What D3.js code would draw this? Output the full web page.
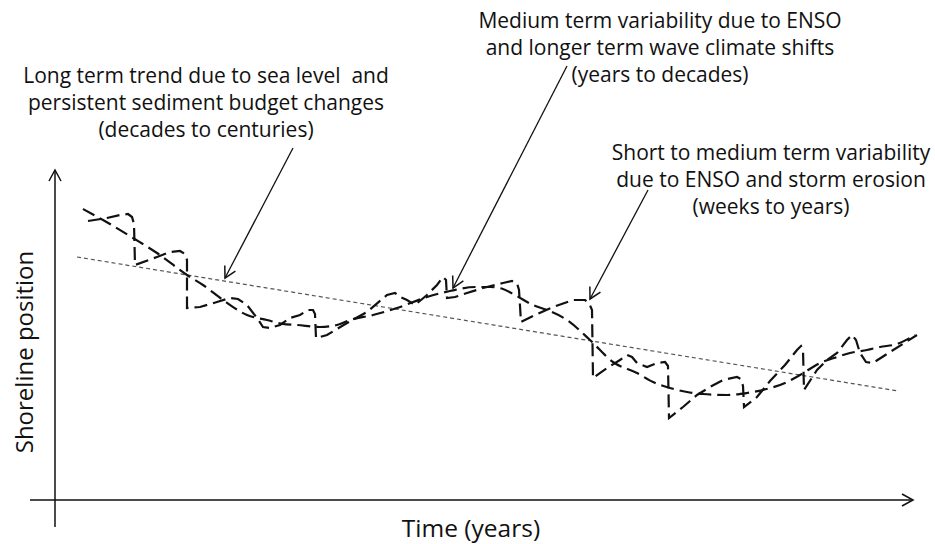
<!DOCTYPE html>
<html>
<head>
<meta charset="utf-8">
<script src="https://cdnjs.cloudflare.com/ajax/libs/d3/7.8.5/d3.min.js"></script>
<style>
  html, body { margin: 0; padding: 0; background: #fff; }
  text { font-family: "Open Sans", Lato, sans-serif; fill: #111; white-space: pre; }
</style>
</head>
<body>
<div id="chart"></div>
<script>
// long term trend (sea level + sediment budget)
var trendLine = [[2.2, 24.3], [84.3, 10.9]];

// medium term variability (ENSO / wave climate), smooth curve
var mediumTerm = [
  [2.8, 29.1], [4.8, 28.0], [7.8, 26.2], [10.2, 24.7], [13.2, 22.5], [14.8, 21.5],
  [16.8, 20.0], [19.2, 18.5], [21.2, 18.0], [22.8, 17.6], [24.2, 17.5], [26.5, 17.3],
  [28.2, 17.5], [29.5, 18.0], [31.8, 18.5], [34.2, 19.2], [37.2, 20.3], [39.5, 20.9],
  [42.0, 21.3], [43.5, 21.3], [44.8, 21.1], [46.0, 20.5], [47.8, 19.5], [49.2, 19.0],
  [51.2, 18.0], [53.5, 16.0], [55.8, 13.8], [58.2, 12.7], [59.8, 11.8], [61.5, 11.2],
  [63.2, 10.8], [64.8, 10.6], [67.2, 10.5], [69.2, 10.7], [70.8, 11.0], [73.2, 11.8],
  [74.5, 12.5], [76.5, 13.7], [78.2, 14.3], [79.5, 14.7], [81.2, 15.0], [82.5, 15.3],
  [84.2, 15.6], [86.0, 16.5]
];

// short term variability (storm erosion then recovery)
var shortTerm = [
  [3.3, 27.9], [5.2, 28.2], [6.5, 28.5], [7.3, 28.6], [7.7, 28.3], [7.9, 27.6], [8.0, 23.5],
  [10.2, 24.3], [11.5, 24.8], [12.5, 24.9], [13.0, 24.6], [13.2, 24.0], [13.2, 19.2],
  [14.5, 19.3], [16.2, 19.8], [17.5, 20.2], [18.3, 20.1], [19.2, 19.5], [20.2, 18.2],
  [20.8, 17.3], [21.5, 17.2], [22.5, 17.5], [23.5, 18.2], [24.5, 18.5], [25.3, 19.0],
  [25.8, 19.0], [26.0, 18.6], [26.1, 16.2],
  [27.2, 16.5], [29.2, 17.7], [31.2, 18.8], [33.2, 20.5], [34.0, 20.7], [34.5, 20.3],
  [35.2, 20.0], [36.0, 19.5], [37.2, 20.5], [38.2, 21.5], [38.8, 22.3], [39.1, 22.0], [39.2, 20.2],
  [40.0, 20.3], [41.2, 20.7], [42.8, 21.2], [44.8, 21.7], [45.7, 21.9], [46.2, 21.7],
  [46.4, 21.0], [46.6, 17.8],
  [48.0, 18.5], [49.8, 19.3], [51.8, 20.0], [53.0, 20.0], [53.4, 19.7], [53.7, 19.0], [53.8, 12.2],
  [55.2, 13.2], [56.5, 14.0], [57.2, 14.5], [57.7, 14.3], [58.2, 13.7], [59.2, 13.3],
  [60.2, 13.7], [61.0, 13.8], [61.3, 13.4], [61.4, 8.2],
  [62.8, 9.3], [64.2, 10.5], [65.5, 11.3], [66.8, 12.0], [68.2, 12.3], [68.6, 12.1],
  [68.8, 11.4], [68.9, 9.3],
  [70.2, 10.3], [71.5, 11.9], [73.0, 13.5], [74.2, 15.0], [74.6, 15.4], [74.8, 15.0], [74.9, 11.0],
  [76.2, 13.0], [77.2, 14.0], [78.2, 14.7], [79.2, 16.0], [79.7, 16.5], [80.1, 16.0],
  [80.5, 14.7], [81.1, 13.8], [81.8, 13.7], [83.5, 14.8], [86.2, 16.5]
];

// annotation texts
var noteLong = ["Long term trend due to sea level  and", "persistent sediment budget changes", "(decades to centuries)"];
var noteMedium = ["Medium term variability due to ENSO", "and longer term wave climate shifts", "(years to decades)"];
var noteShort = ["Short to medium term variability", "due to ENSO and storm erosion", "(weeks to years)"];

var xLabel = "Time (years)";
var yLabel = "Shoreline position";

const width = 935, height = 544;

const x = d3.scaleLinear().domain([0, 86]).range([55, 915]);
const y = d3.scaleLinear().domain([0, 33]).range([500, 170]);

const svg = d3.select("#chart").append("svg")
    .attr("width", width)
    .attr("height", height);

// open arrow head
svg.append("defs")
    .append("marker")
    .attr("id", "vhead")
    .attr("viewBox", "-12 -8 14 16")
    .attr("refX", 0)
    .attr("refY", 0)
    .attr("markerWidth", 14)
    .attr("markerHeight", 16)
    .attr("markerUnits", "userSpaceOnUse")
    .attr("orient", "auto")
    .append("path")
    .attr("d", "M -11 -6 L 0 0 L -11 6")
    .attr("fill", "none")
    .attr("stroke", "#111")
    .attr("stroke-width", 1.5);

// axes
const axes = svg.append("g").attr("class", "axes");
axes.append("line")
    .attr("x1", 30).attr("y1", y(0))
    .attr("x2", 913).attr("y2", y(0))
    .attr("stroke", "#111")
    .attr("stroke-width", 1.5)
    .attr("marker-end", "url(#vhead)");
axes.append("line")
    .attr("x1", x(0)).attr("y1", 527)
    .attr("x2", x(0)).attr("y2", 170)
    .attr("stroke", "#111")
    .attr("stroke-width", 1.5)
    .attr("marker-end", "url(#vhead)");

axes.append("text")
    .attr("x", 471)
    .attr("y", 537)
    .attr("text-anchor", "middle")
    .style("font-size", "24.5px")
    .text(xLabel);
axes.append("text")
    .attr("transform", "translate(33,352) rotate(-90)")
    .attr("text-anchor", "middle")
    .style("font-size", "24px")
    .text(yLabel);

// series
const line = d3.line()
    .x(d => x(d[0]))
    .y(d => y(d[1]));

svg.append("path")
    .datum(trendLine)
    .attr("d", line)
    .attr("fill", "none")
    .attr("stroke", "#555")
    .attr("stroke-width", 1.2)
    .attr("stroke-dasharray", "4,3");

svg.append("path")
    .datum(mediumTerm)
    .attr("d", line.curve(d3.curveMonotoneX))
    .attr("fill", "none")
    .attr("stroke", "#111")
    .attr("stroke-width", 2.2)
    .attr("stroke-dasharray", "13,6");

svg.append("path")
    .datum(shortTerm)
    .attr("d", line.curve(d3.curveLinear))
    .attr("fill", "none")
    .attr("stroke", "#111")
    .attr("stroke-width", 2.2)
    .attr("stroke-dasharray", "13,6");

// annotations
function note(lines, cx, top) {
    const t = svg.append("text")
        .attr("text-anchor", "middle")
        .style("font-size", "21px");
    lines.forEach(function (s, i) {
        t.append("tspan")
            .attr("x", cx)
            .attr("y", top + i * 27)
            .text(s);
    });
}
note(noteLong, 206, 83);
note(noteMedium, 660, 28);
note(noteShort, 771, 160);

const arrows = [
    [[23.8, 35.2], [17.0, 22.2]],
    [[51.2, 43.4], [39.8, 21.2]],
    [[59.3, 31.0], [53.5, 20.1]]
];
svg.append("g")
    .selectAll("line")
    .data(arrows)
    .join("line")
    .attr("x1", d => x(d[0][0])).attr("y1", d => y(d[0][1]))
    .attr("x2", d => x(d[1][0])).attr("y2", d => y(d[1][1]))
    .attr("stroke", "#111")
    .attr("stroke-width", 1.3)
    .attr("marker-end", "url(#vhead)");
</script>
</body>
</html>
